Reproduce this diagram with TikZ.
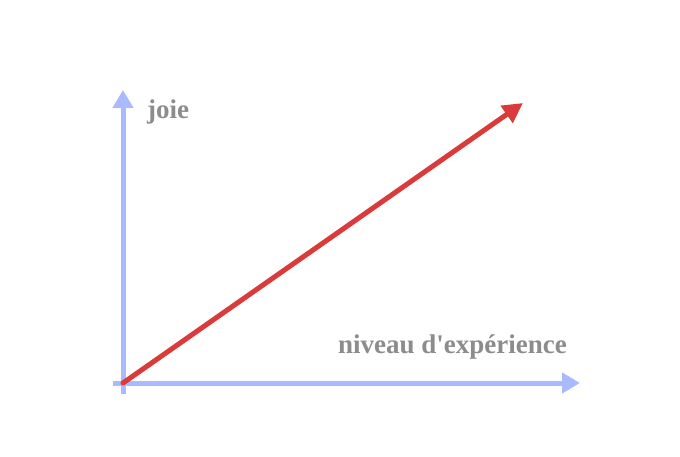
\documentclass[tikz,border=0pt]{standalone}
\usepackage{fontspec}
\setmainfont{Liberation Serif}
\usetikzlibrary{arrows.meta}
\definecolor{axisblue}{RGB}{170,186,255}
\definecolor{linered}{RGB}{218,58,58}
\definecolor{labelgray}{RGB}{140,140,140}
\tikzset{
  axis/.style={draw=axisblue, line width=5pt, -{Triangle[width=20pt,length=18pt]}},
  trend/.style={draw=linered, line width=5pt, -{Triangle[width=20pt,length=20pt]}},
  lbl/.style={text=labelgray, font=\bfseries\fontsize{27}{32}\selectfont, inner sep=0pt}
}
\begin{document}
\begin{tikzpicture}[x=1pt,y=-1pt]
\useasboundingbox (0,0) rectangle (680,457);
\coordinate (ybot) at (123,394);
\coordinate (ytop) at (123,90);
\coordinate (xleft) at (113,383);
\coordinate (xright) at (580,383);
\coordinate (o) at (123,383);
\coordinate (rtip) at (523,103);
\draw[axis] (ybot) -- (ytop);
\draw[axis] (xleft) -- (xright);
\draw[trend, line cap=round] (o) -- (rtip);
\node[lbl, anchor=west] (joie) at (147,112) {joie};
\node[lbl, anchor=east] (niv) at (567,347) {niveau d\textquotesingle expérience};
\end{tikzpicture}
\end{document}
